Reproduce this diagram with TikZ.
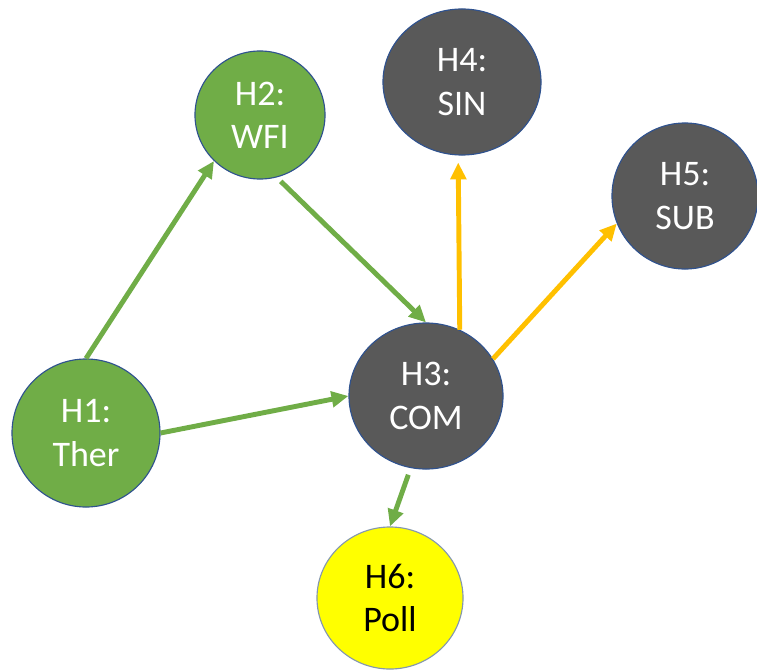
\documentclass[tikz,border=0pt]{standalone}
\usepackage{fontspec}
\setmainfont{Carlito}
\usetikzlibrary{arrows.meta,shapes.geometric}
\definecolor{hgreen}{HTML}{70AD47}
\definecolor{hgray}{HTML}{595959}
\definecolor{hyellow}{HTML}{FFFF00}
\definecolor{horange}{HTML}{FFC000}
\definecolor{hborder}{HTML}{2F528F}
\definecolor{hlight}{HTML}{8497B0}
\begin{document}
\begin{tikzpicture}[x=0.025cm,y=-0.025cm,
  hnode/.style={ellipse,draw=hborder,line width=0.8pt,inner sep=0pt,align=center,
    font=\fontsize{25.6}{30.7}\selectfont,text=white},
  greennode/.style={hnode,fill=hgreen},
  graynode/.style={hnode,fill=hgray},
  yellownode/.style={hnode,fill=hyellow,draw=hlight,text=black},
  harrow/.style={-{Triangle[length=12pt,width=11pt]},line width=3.5pt},
  greenarrow/.style={harrow,draw=hgreen,fill=hgreen},
  orangearrow/.style={harrow,draw=horange,fill=horange}]
 \useasboundingbox (0,0) rectangle (757,670);
 \node[greennode,minimum width=3.7cm,minimum height=3.7cm] (h1) at (86,433) {H1:\\Ther};
 \node[greennode,minimum width=3.25cm,minimum height=3.2cm] (h2) at (260,115) {H2:\\WFI};
 \node[graynode,minimum width=3.85cm,minimum height=3.65cm] (h3) at (426,396) {H3:\\COM};
 \node[graynode,minimum width=3.95cm,minimum height=3.65cm] (h4) at (462,82) {H4:\\SIN};
 \node[graynode,minimum width=3.65cm,minimum height=3.65cm] (h5) at (685,196) {H5:\\SUB};
 \node[yellownode,minimum width=3.65cm,minimum height=3.55cm] (h6) at (390,598) {H6:\\Poll};
 \draw[greenarrow] (h1.north) -- (h2.225);
 \draw[greenarrow] (h1.east) -- (h3.west);
 \draw[greenarrow,shorten <=4pt] (h2.-75) -- (h3.north);
 \draw[greenarrow,shorten <=5pt] (h3.-102) -- (h6.north);
 \draw[orangearrow,shorten >=5pt] (h3.63) -- (h4.-93);
 \draw[orangearrow] (h3.29) -- (h5.202);
\end{tikzpicture}
\end{document}
